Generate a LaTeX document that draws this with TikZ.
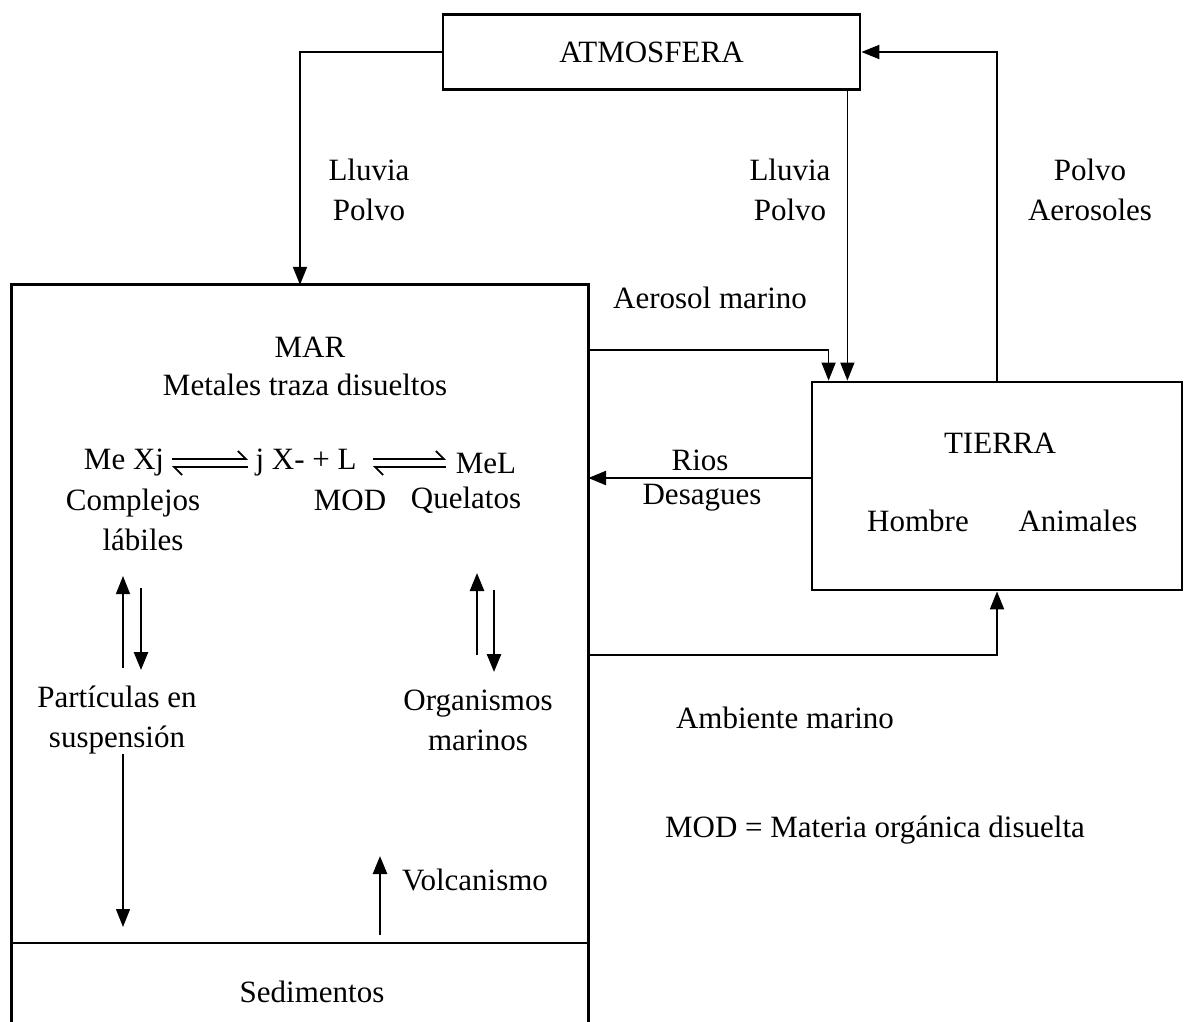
\documentclass[tikz,border=0pt]{standalone}
\usepackage{fontspec}
\setmainfont{Liberation Serif}
\usetikzlibrary{arrows.meta}
\begin{document}
\begin{tikzpicture}[x=1pt,y=-1pt,
  box/.style={draw,line width=2.8pt,inner sep=0pt},
  txt/.style={inner sep=0pt,align=center,font=\fontsize{31}{40}\selectfont},
  flow/.style={line width=2pt,-{Triangle[length=18pt,width=14pt]}},
  thinflow/.style={line width=1.4pt,-{Triangle[length=18pt,width=14pt]}},
  upflow/.style={line width=2.6pt,-{Triangle[length=18pt,width=14pt]}}]
\useasboundingbox (0,0) rectangle (1190,1021);

% compartments
\node[box,minimum width=417pt,minimum height=75pt] (atm) at (651.5,52) {};
\node[txt] at (atm.center) {ATMOSFERA};
\node[box,minimum width=370pt,minimum height=208pt] (tierra) at (997,486) {};
\node[inner sep=0pt,minimum width=576pt,minimum height=740pt] (mar) at (300,655) {};
\draw[line width=2.8pt] (mar.south west) -- (mar.north west) -- (mar.north east) -- (mar.south east);
\coordinate (sedL) at (12,943);
\coordinate (sedR) at (588,943);
\draw[line width=2.4pt] (sedL) -- (sedR);

% exchanges between compartments
\draw[flow] (atm.west) -| (mar.north);
\draw[thinflow] ([xshift=-14pt]atm.south east) -- ([xshift=-14pt]atm.south east |- tierra.north);
\draw[thinflow] (mar.east |- 0,350) -| ([xshift=18pt]tierra.north west);
\draw[flow] (tierra.north) |- (atm.east);
\draw[upflow] (tierra.west |- 0,478) -- (mar.east |- 0,478);
\draw[flow] (mar.east |- 0,655) -| (tierra.south);

% labels outside
\node[txt] (l1) at (369,190) {Lluvia\\Polvo};
\node[txt] (l2) at (790,190) {Lluvia\\Polvo};
\node[txt] (l3) at (1090,190) {Polvo\\Aerosoles};
\node[txt] (aer) at (710,298) {Aerosol marino};
\node[txt] (rios) at (700,460) {Rios};
\node[txt] (des) at (702,498) {Desagues};
\node[txt] (tt) at (1000,443) {TIERRA};
\node[txt] (hom) at (918,521) {Hombre};
\node[txt] (ani) at (1078,521) {Animales};
\node[txt] (amb) at (785,718) {Ambiente marino};
\node[txt] (modn) at (875,830) {MOD = Materia orgánica disuelta};

% inside the sea
\node[txt] (mart) at (310,347) {MAR};
\node[txt] (met) at (305,385) {Metales traza disueltos};
\node[txt] (mex) at (124,463) {Me Xj};
\node[txt] (jx) at (306,463) {j X- + L};
\node[txt] (mel) at (486,463) {MeL};
\draw[line width=1.8pt,-{Straight Barb[left,length=8pt]}] (172,459) -- (248,459);
\draw[line width=1.8pt,-{Straight Barb[left,length=8pt]}] (248,467) -- (172,467);
\draw[line width=1.8pt,-{Straight Barb[left,length=8pt]}] (373,459) -- (446,459);
\draw[line width=1.8pt,-{Straight Barb[left,length=8pt]}] (446,467) -- (373,467);
\node[txt] (comp) at (133,520) {Complejos\\\hspace*{20pt}lábiles};
\node[txt] (mod) at (350,500) {MOD};
\node[txt] (que) at (466,500) {Quelatos};
\node[txt] (part) at (117,720) {Partículas en\\suspensión};
\node[txt] (org) at (478,720) {Organismos\\marinos};
\node[txt] (vol) at (475,880) {Volcanismo};
\node[txt] (sed) at (312,992) {Sedimentos};

% exchanges inside the sea
\coordinate (pu1) at (123,668); \coordinate (pu2) at (123,576);
\coordinate (pd1) at (141,588); \coordinate (pd2) at (141,670);
\coordinate (ou1) at (477,655); \coordinate (ou2) at (477,573);
\coordinate (od1) at (494,590); \coordinate (od2) at (494,672);
\draw[thinflow] (pu1) -- (pu2);
\draw[upflow] (pd1) -- (pd2);
\draw[upflow] (ou1) -- (ou2);
\draw[upflow] (od1) -- (od2);
\draw[thinflow] (part.south -| 123,0) -- (123,927);
\coordinate (volb) at (380,935);
\draw[upflow] (volb) -- (380,856);
\end{tikzpicture}
\end{document}
